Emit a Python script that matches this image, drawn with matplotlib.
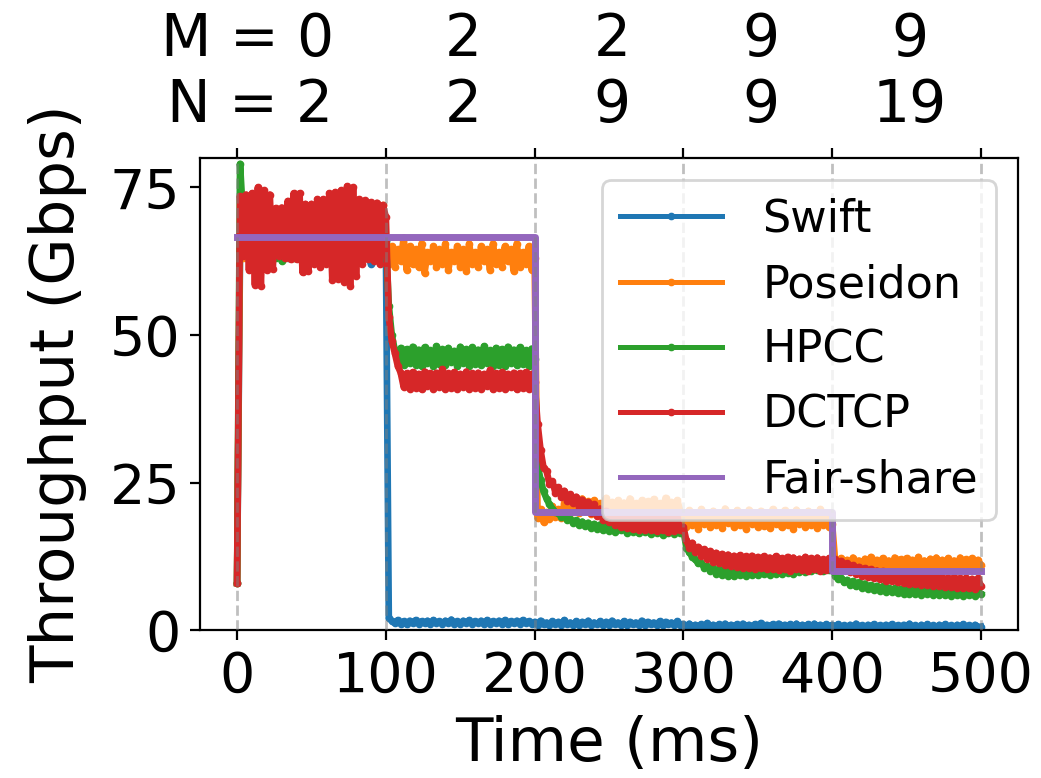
import numpy as np
import matplotlib
matplotlib.use("Agg")
import matplotlib.pyplot as plt

# sampling grid of the throughput traces (ms)
time_ms = np.arange(0, 501, 2)

# throughput per scheme (Gbps), one row of 10 samples per 20 ms
swift = [
    8, 64, 69, 63, 68, 65, 70, 64, 67, 63,
    69, 65, 68, 64, 70, 66, 67, 63, 69, 65,
    68, 64, 67, 65, 70, 63, 68, 66, 69, 64,
    67, 65, 70, 63, 68, 64, 69, 66, 67, 63,
    68, 65, 70, 64, 67, 62, 69, 65, 68, 63,
    # 100 ms
    66, 2.0, 1.6, 1.2, 1.7, 1.1, 1.5, 1.0, 1.6, 1.2,
    1.7, 1.1, 1.5, 1.2, 1.6, 1.0, 1.7, 1.2, 1.5, 1.1,
    1.6, 1.2, 1.8, 1.1, 1.5, 1.0, 1.6, 1.2, 1.7, 1.1,
    1.5, 1.2, 1.6, 1.0, 1.7, 1.1, 1.5, 1.2, 1.6, 1.1,
    1.7, 1.0, 1.5, 1.2, 1.6, 1.1, 1.7, 1.2, 1.5, 1.1,
    # 200 ms
    1.4, 0.9, 1.6, 1.0, 1.3, 0.8, 1.5, 1.0, 1.4, 0.9,
    1.7, 1.0, 1.3, 0.9, 1.5, 0.8, 1.4, 1.0, 1.6, 0.9,
    1.3, 1.0, 1.5, 0.8, 1.4, 0.9, 1.6, 1.0, 1.3, 0.9,
    1.5, 0.8, 1.4, 1.0, 1.3, 0.9, 1.6, 0.8, 1.4, 1.0,
    1.3, 0.9, 1.5, 0.8, 1.4, 1.0, 1.3, 0.9, 1.5, 0.9,
    # 300 ms
    1.0, 0.6, 1.1, 0.5, 0.9, 0.6, 1.0, 0.5, 1.2, 0.6,
    0.9, 0.5, 1.0, 0.6, 1.1, 0.5, 0.9, 0.6, 1.0, 0.5,
    1.1, 0.6, 0.9, 0.5, 1.0, 0.6, 1.2, 0.5, 0.9, 0.6,
    1.0, 0.5, 1.1, 0.6, 0.9, 0.5, 1.0, 0.6, 1.1, 0.5,
    0.9, 0.6, 1.0, 0.5, 1.1, 0.6, 0.9, 0.5, 1.0, 0.6,
    # 400 ms
    0.9, 0.5, 1.0, 0.4, 0.8, 0.5, 0.9, 0.4, 1.1, 0.5,
    0.8, 0.4, 0.9, 0.5, 1.0, 0.4, 0.8, 0.5, 0.9, 0.4,
    1.0, 0.5, 0.8, 0.4, 0.9, 0.5, 1.1, 0.4, 0.8, 0.5,
    0.9, 0.4, 1.0, 0.5, 0.8, 0.4, 0.9, 0.5, 1.0, 0.4,
    0.8, 0.5, 0.9, 0.4, 1.0, 0.5, 0.8, 0.4, 0.9, 0.5,
    0.6,
]

poseidon = [
    8, 67, 63, 69, 64, 68, 62, 70, 65, 67,
    63, 69, 64, 68, 65, 71, 63, 67, 64, 69,
    65, 68, 63, 70, 64, 67, 65, 69, 63, 68,
    64, 70, 65, 67, 63, 69, 64, 68, 65, 70,
    63, 67, 64, 69, 65, 68, 64, 71, 66, 72,
    # 100 ms
    64, 62, 65, 61.5, 64.5, 62.5, 66.5, 61, 65, 62,
    64.5, 61.5, 65.5, 60.5, 64, 62.5, 65, 61.5, 64.5, 62,
    65.5, 61, 64, 62.5, 65, 61.5, 64.5, 60.8, 65.5, 62,
    64, 61.5, 65, 62.5, 64.5, 61, 65.5, 62, 64, 61.5,
    65, 62.5, 64.5, 60.8, 65.5, 61.5, 64, 62, 65, 61,
    # 200 ms
    63, 19, 20.5, 18.3, 20, 18.8, 21, 19.2, 20.5, 19,
    21.5, 19.5, 22, 20, 21.5, 19.8, 22.3, 20.2, 21.8, 19.6,
    22, 20.3, 21.5, 19.8, 22.4, 20, 21.7, 19.5, 22, 20.2,
    21.6, 19.8, 22.3, 20, 21.5, 19.6, 22, 20.3, 21.8, 19.7,
    22.2, 20, 21.5, 19.8, 22.4, 20.1, 21.7, 19.6, 22, 20,
    # 300 ms
    19.5, 17.5, 20.3, 17.8, 19.8, 17.2, 20.5, 18, 19.6, 17.4,
    20.2, 17.9, 19.9, 17.3, 20.6, 18.1, 19.7, 17.5, 20.3, 17.8,
    19.8, 17.2, 20.4, 18, 19.6, 17.5, 20.2, 17.7, 19.9, 17.3,
    20.5, 18, 19.7, 17.4, 20.3, 17.8, 19.8, 17.2, 20.4, 18,
    19.6, 17.5, 20.2, 17.8, 19.9, 17.3, 20.5, 17.9, 19.8, 17.5,
    # 400 ms
    18, 11.8, 10.6, 12.2, 10.8, 11.9, 10.5, 12.3, 11, 11.8,
    10.6, 12.1, 10.8, 12.4, 10.5, 11.9, 11, 12.2, 10.7, 11.8,
    10.5, 12.3, 10.9, 12, 10.6, 12.2, 10.8, 11.9, 10.5, 12.4,
    11, 11.8, 10.6, 12.1, 10.8, 12.3, 10.5, 11.9, 10.9, 12.2,
    10.7, 11.8, 10.5, 12.3, 11, 12, 10.6, 12.2, 10.8, 11.9,
    11,
]

hpcc = [
    8, 79, 70, 64, 68, 63, 67, 64, 69, 63,
    67, 64, 68, 63, 66, 62.5, 68, 64, 67, 63,
    69, 64, 67, 62.8, 68, 64, 66, 63, 68, 64,
    67, 63, 69, 64, 67, 63, 68, 64, 66, 63,
    68, 64, 67, 63, 69, 64, 67, 63, 68, 65,
    # 100 ms
    66, 55, 50, 47.5, 45.5, 47.8, 44.9, 47.6, 45.2, 48,
    45, 47.5, 44.7, 47.9, 45.3, 47.4, 44.8, 48.1, 45.1, 47.6,
    44.9, 47.8, 45.4, 47.3, 44.7, 48, 45.2, 47.6, 44.8, 47.9,
    45.1, 47.5, 44.9, 48.1, 45.3, 47.4, 44.7, 47.8, 45, 47.6,
    44.8, 48, 45.2, 47.5, 44.9, 47.9, 45.1, 47.4, 44.8, 47.7,
    # 200 ms
    46, 28, 25.5, 23.5, 22.3, 21.3, 20.6, 20, 19.8, 19.2,
    19.4, 18.7, 18.9, 18.2, 18.6, 17.8, 18.4, 17.6, 18.2, 17.3,
    18, 17.2, 17.9, 16.9, 18.1, 16.8, 17.8, 16.6, 18, 16.9,
    17.7, 16.5, 17.9, 16.7, 17.6, 16.4, 17.8, 16.6, 17.5, 16.3,
    17.7, 16.5, 17.6, 16.2, 17.8, 16.5, 17.4, 16.3, 17.6, 16.4,
    # 300 ms
    17, 14, 13.2, 12.4, 12, 11.3, 11.4, 10.6, 10.9, 10.1,
    10.6, 9.6, 10.4, 9.3, 10.5, 9.2, 10.3, 9.1, 10.6, 9.3,
    10.4, 9.2, 10.7, 9.4, 10.5, 9.3, 10.8, 9.5, 10.6, 9.4,
    10.9, 9.6, 10.7, 9.5, 11, 9.7, 10.8, 9.6, 11.2, 9.8,
    11, 9.9, 11.4, 10, 11.1, 10.2, 11.6, 10.1, 11.3, 10.2,
    # 400 ms
    11, 9.2, 8.7, 8.9, 8.1, 8.5, 7.7, 8.3, 7.4, 8.1,
    7.2, 7.9, 7, 7.6, 6.8, 7.5, 6.7, 7.4, 6.5, 7.2,
    6.5, 7.1, 6.3, 7, 6.2, 6.9, 6.2, 7, 6.1, 6.8,
    6, 6.9, 6.1, 6.7, 5.9, 6.8, 6, 6.6, 5.9, 6.7,
    5.8, 6.6, 5.9, 6.7, 5.8, 6.5, 5.9, 6.6, 5.8, 6.5,
    6.2,
]

dctcp = [
    8, 73.5, 63.4, 73.8, 61, 74, 58.5, 75, 58.3, 74.5,
    61, 73.8, 61.2, 71.5, 63.4, 71.6, 63, 72.7, 62.8, 74,
    62.8, 74, 60.6, 72.2, 60.8, 72.2, 62, 73, 61.5, 73,
    62, 74, 59.4, 74.2, 59.5, 74.5, 59, 75.2, 58.3, 75,
    60, 73, 62, 72.8, 62.8, 72.5, 62.6, 72.4, 62, 72,
    # 100 ms
    70, 53, 49, 47, 44.8, 43.6, 41.2, 43.5, 40.9, 43.7,
    41.1, 43.4, 40.8, 43.8, 41.3, 43.5, 40.9, 43.6, 41.2, 44.2,
    40.8, 43.5, 41.1, 43.7, 40.9, 43.4, 41.2, 43.8, 40.8, 43.5,
    41.1, 43.6, 40.9, 43.4, 41.3, 44.1, 40.8, 43.5, 41.1, 43.7,
    40.9, 43.4, 41.2, 43.6, 40.8, 43.5, 41.1, 43.7, 40.9, 43.4,
    # 200 ms
    42, 35, 30.5, 27.5, 27, 24.8, 25.2, 23.3, 24.2, 22.6,
    23.6, 21.9, 23, 21.5, 22.6, 20.9, 22.1, 20.5, 21.7, 19.9,
    21.3, 19.4, 20.6, 18.6, 20.2, 18.3, 19.8, 17.8, 19.6, 17.5,
    19.4, 17.3, 19.5, 17.1, 19.2, 17, 19.4, 16.9, 19.1, 17,
    19.3, 16.8, 19, 16.9, 19.2, 16.7, 19.1, 16.8, 19, 16.9,
    # 300 ms
    17.5, 15.2, 14, 14.8, 13.2, 14.1, 12.6, 13.7, 12.1, 13.4,
    11.6, 13.1, 11.3, 12.9, 11.1, 12.8, 10.9, 12.6, 10.7, 12.7,
    10.6, 12.5, 10.5, 12.6, 10.4, 12.4, 10.6, 12.5, 10.3, 12.3,
    10.4, 12.5, 10.2, 12.2, 10.4, 12.4, 10.1, 12.3, 10.3, 12.1,
    10.2, 12.4, 10, 12.2, 10.3, 12.3, 10.1, 12, 10.2, 12.2,
    # 400 ms
    11.5, 12, 10.6, 11.7, 10.2, 11.3, 9.8, 11, 9.5, 10.7,
    9.2, 10.5, 9, 10.3, 8.8, 10.1, 8.6, 10, 8.4, 9.9,
    8.3, 9.8, 8.1, 9.6, 8, 9.6, 7.9, 9.4, 7.8, 9.3,
    7.7, 9.3, 7.6, 9.1, 7.5, 9.2, 7.4, 9, 7.3, 8.9,
    7.3, 9, 7.2, 8.8, 7.1, 8.9, 7.1, 8.7, 7, 8.8,
    7.5,
]

# phase boundaries, fair share per phase and the flow counts of each phase
phase_edges = [0, 100, 200, 300, 400, 500]
fair_share = [66.67, 66.67, 20, 20, 10, 10]
phase_mid = [50, 150, 250, 350, 450]
m_flows = [0, 2, 2, 9, 9]
n_flows = [2, 2, 9, 9, 19]

plt.rcParams['font.size'] = 20

fig, ax = plt.subplots(figsize=(5.205, 3.89), dpi=200)
fig.subplots_adjust(left=0.192, right=0.978, bottom=0.19, top=0.797)

series = [("Swift", swift), ("Poseidon", poseidon), ("HPCC", hpcc), ("DCTCP", dctcp)]
for name, vals in series:
    ax.plot(time_ms, vals, marker='.', ms=3.5, lw=2.4, label=name)
ax.plot(phase_edges, fair_share, drawstyle='steps-post', lw=2.5, color='C4',
        label='Fair-share')

for x in phase_edges:
    ax.axvline(x, color='gray', ls='--', lw=1, alpha=0.5, zorder=3)

ax.set_xlim(-25, 525)
ax.set_ylim(0, 80)
ax.set_xticks(phase_edges)
ax.set_yticks([0, 25, 50, 75])
ax.tick_params(top=True)
ax.set_xlabel("Time (ms)", fontsize=22, labelpad=4)
ax.set_ylabel("Throughput (Gbps)", fontsize=22, labelpad=8)

# flow counts above each phase
trans = ax.get_xaxis_transform()
for x, m, n in zip(phase_mid, m_flows, n_flows):
    ax.text(x + 2, 1.05, f"{m}\n{n}", transform=trans, ha='center', va='bottom',
            fontsize=21)
ax.annotate("M =\nN =", xy=(phase_mid[0] + 2, 1.05), xycoords=trans,
            xytext=(-13, 0), textcoords='offset points', ha='right', va='bottom',
            fontsize=21)

leg = ax.legend(loc='upper right', fontsize=16, handlelength=2.3, handletextpad=0.9)
for line in leg.get_lines():
    line.set_linewidth(1.8)

fig.savefig("out.png", dpi=200)
